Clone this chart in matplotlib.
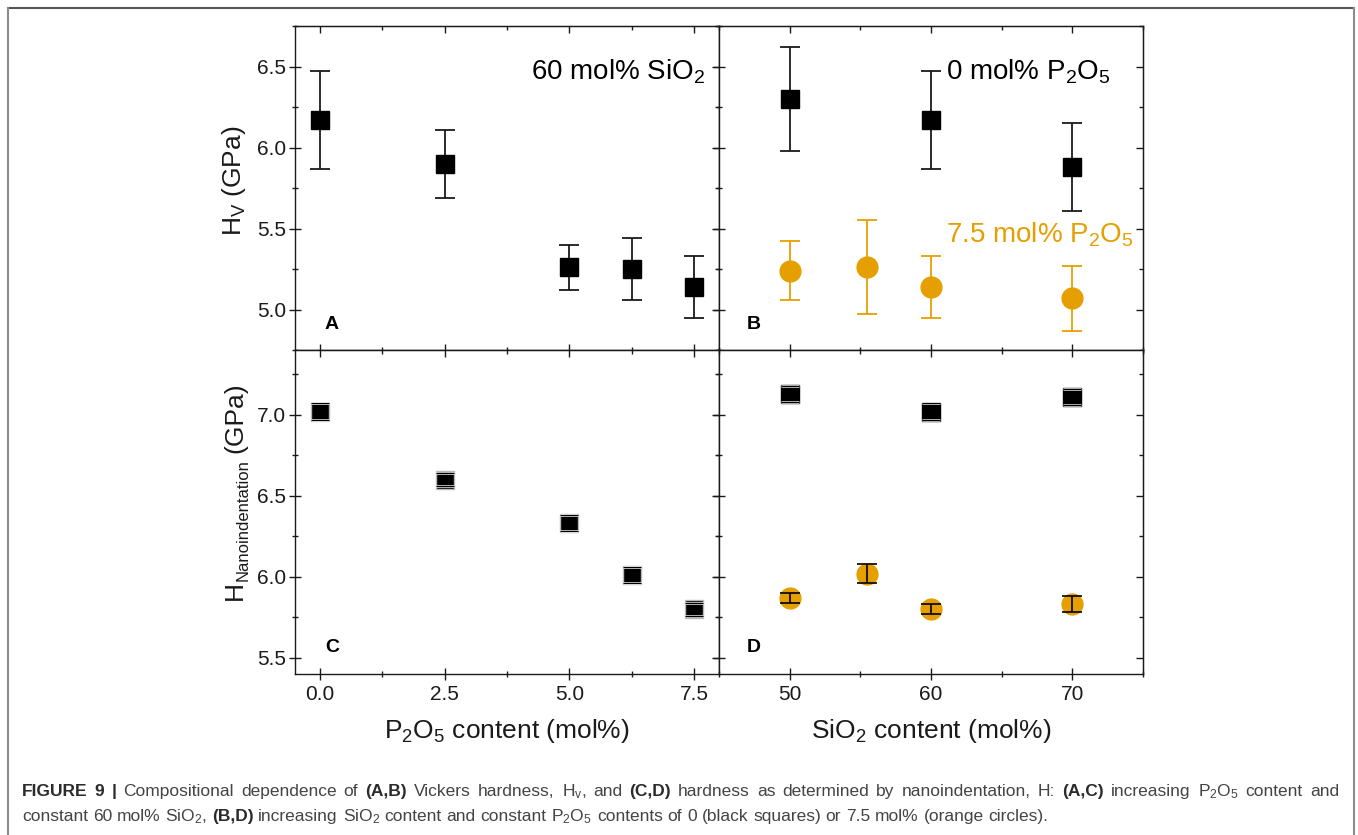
import matplotlib
matplotlib.use('Agg')
import matplotlib.pyplot as plt
import matplotlib.patheffects as pe
from matplotlib.lines import Line2D
from matplotlib.ticker import MultipleLocator

plt.rcParams['font.family'] = ['Liberation Sans', 'DejaVu Sans']
plt.rcParams['mathtext.fontset'] = 'custom'
plt.rcParams['mathtext.rm'] = 'Liberation Sans'
plt.rcParams['mathtext.it'] = 'Liberation Sans:italic'
plt.rcParams['mathtext.bf'] = 'Liberation Sans:bold'

ORANGE = '#e69f00'
INK = '#1a1a1a'

# (A) Vickers hardness vs P2O5 content, 60 mol% SiO2
p2o5 = [0.0, 2.5, 5.0, 6.25, 7.5]
hv_p = [6.17, 5.90, 5.26, 5.25, 5.14]
hv_p_err = [0.30, 0.21, 0.14, 0.19, 0.19]

# (B) Vickers hardness vs SiO2 content
sio2_0 = [50, 60, 70]
hv_s0 = [6.30, 6.17, 5.88]
hv_s0_err = [0.32, 0.30, 0.27]
sio2_75 = [50, 55.5, 60, 70]
hv_s75 = [5.24, 5.26, 5.14, 5.07]
hv_s75_err = [0.18, 0.29, 0.19, 0.20]

# (C) nanoindentation hardness vs P2O5 content
hn_p = [7.02, 6.60, 6.33, 6.01, 5.80]
hn_p_err = [0.05, 0.04, 0.05, 0.05, 0.04]

# (D) nanoindentation hardness vs SiO2 content
hn_s0 = [7.13, 7.02, 7.11]
hn_s0_err = [0.05, 0.05, 0.05]
hn_s75 = [5.87, 6.02, 5.80, 5.83]
hn_s75_err = [0.03, 0.06, 0.03, 0.05]

W, H = 1358, 835
fig = plt.figure(figsize=(W / 100, H / 100), dpi=100)
renderer = fig.canvas.get_renderer()


def fx(x):
    return x / W


def fy(y):
    return 1 - y / H


def ax_at(x0, y0, x1, y1):
    return fig.add_axes([fx(x0), fy(y1), (x1 - x0) / W, (y1 - y0) / H])


def style(ax, xmaj, xmin, ymaj, ymin, xlabels, ylabels):
    ax.xaxis.set_major_locator(MultipleLocator(xmaj))
    ax.xaxis.set_minor_locator(MultipleLocator(xmin))
    ax.yaxis.set_major_locator(MultipleLocator(ymaj))
    ax.yaxis.set_minor_locator(MultipleLocator(ymin))
    ax.tick_params(which='major', direction='inout', length=9, width=1.0,
                   color=INK, labelsize=15, labelcolor=INK)
    ax.tick_params(which='minor', direction='inout', length=5, width=1.0, color=INK)
    ax.tick_params(axis='x', pad=3.5, labelbottom=xlabels)
    ax.tick_params(axis='y', pad=2, labelleft=ylabels)
    for s in ax.spines.values():
        s.set_linewidth(1.0)
        s.set_color(INK)
    top = ax.secondary_xaxis('top')
    top.xaxis.set_major_locator(MultipleLocator(xmaj))
    top.xaxis.set_minor_locator(MultipleLocator(xmin))
    top.tick_params(which='major', direction='in', length=5, width=1.0, color=INK, labeltop=False)
    top.tick_params(which='minor', direction='in', length=3, width=1.0, color=INK)
    right = ax.secondary_yaxis('right')
    right.yaxis.set_major_locator(MultipleLocator(ymaj))
    right.yaxis.set_minor_locator(MultipleLocator(ymin))
    right.tick_params(which='major', direction='in', length=5, width=1.0, color=INK, labelright=False)
    right.tick_params(which='minor', direction='in', length=3, width=1.0, color=INK)


def halo_caps(eb):
    # caps drawn over the black symbols show up only as a thin white rim
    for art in eb.lines[1]:
        art.set_path_effects([pe.withStroke(linewidth=1.8, foreground='#f0f0f0')])


axA = ax_at(295, 26, 719, 350)
axB = ax_at(719, 26, 1143, 350)
axC = ax_at(295, 350, 719, 674)
axD = ax_at(719, 350, 1143, 674)

# ---- A
axA.errorbar(p2o5, hv_p, yerr=hv_p_err, fmt='s', ms=13.5, color='black',
             ecolor=INK, elinewidth=1.3, capsize=7, capthick=1.3)
axA.set_xlim(-0.5, 8.0)
axA.set_ylim(4.75, 6.75)
style(axA, 2.5, 1.25, 0.5, 0.25, False, True)

# ---- B
axB.errorbar(sio2_0, hv_s0, yerr=hv_s0_err, fmt='s', ms=13.5, color='black',
             ecolor=INK, elinewidth=1.3, capsize=7, capthick=1.3)
axB.errorbar(sio2_75, hv_s75, yerr=hv_s75_err, fmt='o', ms=15, color=ORANGE,
             ecolor=ORANGE, elinewidth=1.3, capsize=7, capthick=1.3)
axB.set_xlim(45, 75)
axB.set_ylim(4.75, 6.75)
style(axB, 10, 5, 0.5, 0.25, False, False)

# ---- C
axC.plot(p2o5, hn_p, 's', ms=13.5, color='black', mec='#b8b8b8', mew=1.0, zorder=3)
eb = axC.errorbar(p2o5, hn_p, yerr=hn_p_err, fmt='none', ecolor='black',
                  elinewidth=0.8, capsize=6.5, capthick=0.8, zorder=4)
halo_caps(eb)
axC.set_xlim(-0.5, 8.0)
axC.set_ylim(5.4, 7.4)
style(axC, 2.5, 1.25, 0.5, 0.25, True, True)

# ---- D
axD.plot(sio2_0, hn_s0, 's', ms=13.5, color='black', zorder=3)
eb = axD.errorbar(sio2_0, hn_s0, yerr=hn_s0_err, fmt='none', ecolor='black',
                  elinewidth=0.8, capsize=6.5, capthick=0.8, zorder=4)
halo_caps(eb)
axD.plot(sio2_75, hn_s75, 'o', ms=15, color=ORANGE, zorder=3)
axD.errorbar(sio2_75, hn_s75, yerr=hn_s75_err, fmt='none', ecolor='black',
             elinewidth=1.2, capsize=7, capthick=1.2, zorder=4)
axD.set_xlim(45, 75)
axD.set_ylim(5.4, 7.4)
style(axD, 10, 5, 0.5, 0.25, True, False)

# panel letters
for x, y, s in [(325, 329, 'A'), (747, 329, 'B'), (325, 652, 'C'), (747, 652, 'D')]:
    fig.text(fx(x), fy(y), s, fontsize=14, fontweight='bold', color='black',
             ha='left', va='baseline')

# in-panel annotations
fig.text(fx(705), fy(80), r'60 mol% SiO$_2$', fontsize=20, color='black',
         ha='right', va='baseline')
fig.text(fx(946), fy(80), r'0 mol% P$_2$O$_5$', fontsize=20, color='black',
         ha='left', va='baseline')
fig.text(fx(946), fy(243), r'7.5 mol% P$_2$O$_5$', fontsize=20, color=ORANGE,
         ha='left', va='baseline')

# axis titles
fig.text(fx(507), fy(738), r'P$_2$O$_5$ content (mol%)', fontsize=19, color=INK,
         ha='center', va='baseline')
fig.text(fx(931), fy(738), r'SiO$_2$ content (mol%)', fontsize=19, color=INK,
         ha='center', va='baseline')
fig.text(fx(234), fy(181), r'H$_\mathregular{V}$ (GPa)', fontsize=19, color=INK,
         rotation=90, ha='center', va='center')

# H_Nanoindentation (GPa): small subscript, built from rotated pieces
y = 600
for txt, size, xb, gap in [('H', 19, 242, 0), ('Nanoindentation', 12, 248, 6),
                           ('(GPa)', 19, 242, 0)]:
    t = fig.text(fx(xb), fy(y), txt, fontsize=size, color=INK, rotation=90,
                 rotation_mode='anchor', ha='left', va='baseline')
    y -= t.get_window_extent(renderer).height + gap

# frame around figure
fig.add_artist(Line2D([fx(8), fx(1354)], [fy(8), fy(8)], transform=fig.transFigure,
                      color='#555555', lw=1.5))
fig.add_artist(Line2D([fx(8), fx(8)], [fy(8), 0], transform=fig.transFigure,
                      color='#8c8c8c', lw=1.5))
fig.add_artist(Line2D([fx(1354), fx(1354)], [fy(8), 0], transform=fig.transFigure,
                      color='#8c8c8c', lw=1.5))

# caption, first line justified
cap1 = [('FIGURE 9 |', 'bold'), ('Compositional dependence of', 'normal'),
        ('(A,B)', 'bold'), ('Vickers hardness, H$_\\mathregular{v}$, and', 'normal'),
        ('(C,D)', 'bold'), ('hardness as determined by nanoindentation, H:', 'normal'),
        ('(A,C)', 'bold'), ('increasing P$_2$O$_5$ content and', 'normal')]
cap2 = [('constant 60 mol% SiO$_2$,', 'normal'), ('(B,D)', 'bold'),
        ('increasing SiO$_2$ content and constant P$_2$O$_5$ contents of 0 '
         '(black squares) or 7.5 mol% (orange circles).', 'normal')]


def caption_line(pieces, x0, y, size, width=None):
    words = [(w, wt) for txt, wt in pieces for w in txt.split()]
    arts = []
    for w, wt in words:
        arts.append(fig.text(0, fy(y), w, fontsize=size, fontweight=wt,
                             color='#2b2b2b' if wt == 'bold' else '#444444',
                             ha='left', va='baseline'))
    widths = [a.get_window_extent(renderer).width for a in arts]
    gap = size * 100 / 72 * 0.278
    if width is not None:
        gap = (width - sum(widths)) / (len(words) - 1)
    x = x0
    for a, wd in zip(arts, widths):
        a.set_x(fx(x))
        x += wd + gap


caption_line(cap1, 22, 796, 12.5, width=1317)
caption_line(cap2, 22, 821, 12.5)

fig.savefig('out.png', dpi=100)
